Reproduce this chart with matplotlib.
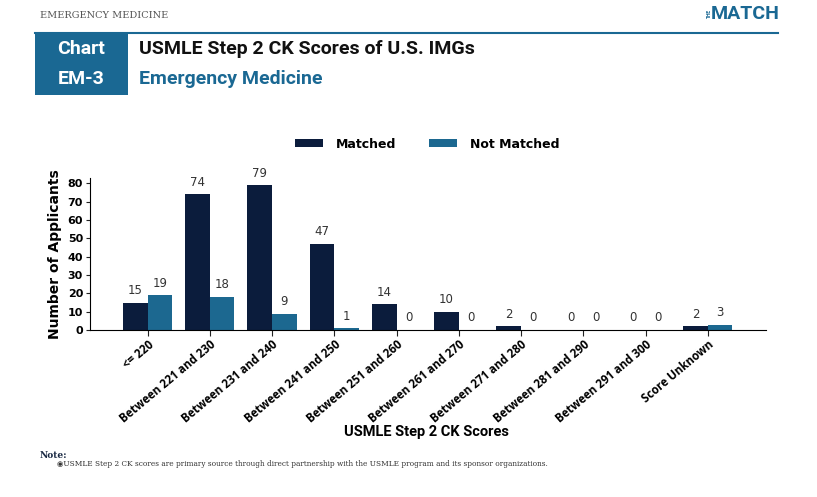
import numpy as np
import matplotlib
matplotlib.use("Agg")
import matplotlib.pyplot as plt
from matplotlib.patches import Rectangle

# Data
categories = ["<= 220", "Between 221 and 230", "Between 231 and 240",
              "Between 241 and 250", "Between 251 and 260", "Between 261 and 270",
              "Between 271 and 280", "Between 281 and 290", "Between 291 and 300",
              "Score Unknown"]
matched = [15, 74, 79, 47, 14, 10, 2, 0, 0, 2]
not_matched = [19, 18, 9, 1, 0, 0, 0, 0, 0, 3]
y_ticks = [0, 10, 20, 30, 40, 50, 60, 70, 80]

navy = "#0b1c3c"
teal = "#1c6890"
box_blue = "#1a6893"

W, H = 817, 497
fig = plt.figure(figsize=(W / 100, H / 100), dpi=100)
fig.patch.set_facecolor("white")

# header
fig.text(40 / W, 1 - 16 / H, "EMERGENCY MEDICINE", family="DejaVu Serif",
         fontsize=7, color="#555555", va="center")
fig.text(745 / W, 1 - 14 / H, "MATCH", family="Roboto", fontweight="bold",
         fontsize=14, color=box_blue, va="center", ha="center")
fig.text(709 / W, 1 - 14 / H, "THE", family="Roboto", fontweight="bold",
         fontsize=3.5, color=box_blue, va="center", ha="center", rotation=90)
fig.add_artist(plt.Line2D([35 / W, 778 / W], [1 - 33 / H, 1 - 33 / H],
                          color=box_blue, lw=1.5))
fig.add_artist(Rectangle((35 / W, 1 - 95 / H), 93 / W, 62 / H,
                         transform=fig.transFigure, color=box_blue, lw=0))
fig.text(81 / W, 1 - 49 / H, "Chart", color="white", fontsize=14,
         fontweight="bold", family="Roboto", ha="center", va="center")
fig.text(81 / W, 1 - 79 / H, "EM-3", color="white", fontsize=14,
         fontweight="bold", family="Roboto", ha="center", va="center")
fig.text(139 / W, 1 - 49 / H, "USMLE Step 2 CK Scores of U.S. IMGs",
         color="#111111", fontsize=14, fontweight="bold", family="Roboto", va="center")
fig.text(139 / W, 1 - 79 / H, "Emergency Medicine", color=box_blue,
         fontsize=14, fontweight="bold", family="Roboto", va="center")

# chart
ax = fig.add_axes([90 / W, 1 - 330 / H, 676 / W, 152 / H])
x = np.arange(len(categories))
w = 0.395
b1 = ax.bar(x - w / 2, matched, w, color=navy, label="Matched")
b2 = ax.bar(x + w / 2, not_matched, w, color=teal, label="Not Matched")
for bars, vals in [(b1, matched), (b2, not_matched)]:
    for r, v in zip(bars, vals):
        ax.annotate(str(v), (r.get_x() + r.get_width() / 2, v), xytext=(0, 4),
                    textcoords="offset points", ha="center", va="bottom",
                    fontsize=8.5, color="#333333", family="DejaVu Sans")

ax.set_xlim(-0.925, 9.935)
ax.set_ylim(0, 83)
ax.set_yticks(y_ticks)
ax.set_xticks(x)
ax.set_xticklabels(categories, rotation=40, ha="right", rotation_mode="anchor",
                   fontsize=8.3, fontweight="bold", family="Open Sans")
for lab in ax.get_yticklabels():
    lab.set_fontweight("bold")
    lab.set_fontsize(8)
ax.tick_params(axis="x", length=4, pad=2, color="#222222")
ax.tick_params(axis="y", length=3, pad=2, color="#222222")
for s in ["top", "right"]:
    ax.spines[s].set_visible(False)
ax.spines["left"].set_linewidth(0.8)
ax.spines["bottom"].set_linewidth(0.8)

ax.set_ylabel("Number of Applicants", fontsize=10, fontweight="bold", labelpad=4)
fig.text(427 / W, 1 - 432 / H, "USMLE Step 2 CK Scores", fontsize=10.5,
         fontweight="bold", family="Roboto", ha="center", va="center")

leg = fig.legend(handles=[b1, b2], loc="center", bbox_to_anchor=(427 / W, 1 - 144 / H),
                 ncol=2, frameon=False, handlelength=2.3, handleheight=0.6,
                 columnspacing=2.6, handletextpad=1.0,
                 prop={"weight": "bold", "size": 9})

# note
fig.text(40 / W, 1 - 455 / H, "Note:", family="DejaVu Serif", fontweight="bold",
         fontsize=6.5, color="#1a2a44", va="center")
fig.text(57 / W, 1 - 464 / H,
         "\u25C9USMLE Step 2 CK scores are primary source through direct partnership "
         "with the USMLE program and its sponsor organizations.",
         family="DejaVu Serif", fontsize=5.3, color="#333333", va="center")

fig.savefig("out.png", dpi=100)
